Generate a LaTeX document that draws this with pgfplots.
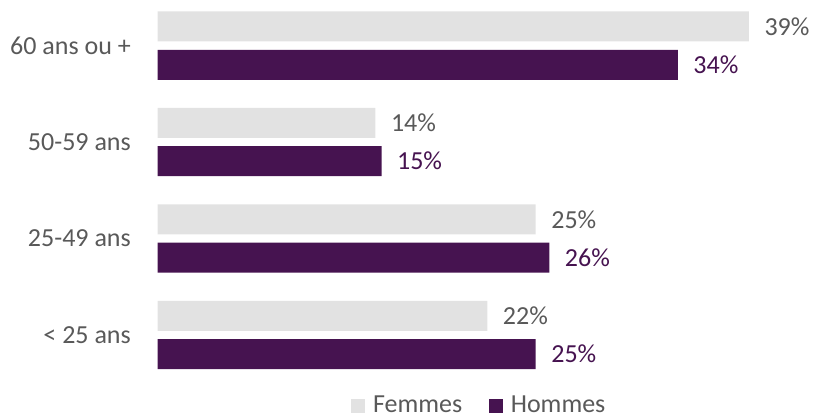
\documentclass[border=0pt]{standalone}
\usepackage{pgfplots}
\pgfplotsset{compat=1.18}
\usepackage{pgfplotstable}
\usepackage{fontspec}
\setmainfont{Carlito}
\definecolor{fgray}{HTML}{E2E2E2}
\definecolor{hpurple}{HTML}{461350}
\definecolor{tgray}{HTML}{595959}

\pgfplotstableread{
idx val lab
0 21.8 22\%
1 25.0 25\%
2 14.4 14\%
3 39.1 39\%
}\femmes
\pgfplotstableread{
idx val lab
0 25.0 25\%
1 25.9 26\%
2 14.8 15\%
3 34.4 34\%
}\hommes

\begin{document}
\begin{tikzpicture}[font=\fontsize{19.5pt}{23pt}\selectfont]
\begin{axis}[
  scale only axis,
  width=487.6pt, height=289.4pt,
  xmin=0, xmax=43,
  ymin=-0.5, ymax=3.5,
  axis line style={draw=none},
  xtick=\empty,
  ytick={0,1,2,3},
  yticklabels={{< 25 ans},{25-49 ans},{50-59 ans},{60 ans ou +}},
  major tick length=0pt,
  y tick label style={inner sep=0pt, anchor=east, xshift=-20pt, text=tgray, font=\fontsize{19.5pt}{23pt}\selectfont},
  xbar,
  bar width=22.5pt,
  point meta=explicit symbolic,
  nodes near coords,
  nodes near coords style={anchor=west, inner sep=0pt, xshift=11.5pt, font=\fontsize{19.5pt}{23pt}\selectfont},
  legend columns=2,
  legend style={draw=none, fill=none, at={(0.495,-0.058)}, anchor=center,
    font=\fontsize{19.5pt}{23pt}\selectfont, text=tgray, inner sep=0pt,
    /tikz/every even column/.append style={column sep=18pt},
    /tikz/every odd column/.append style={column sep=4pt}},
  legend image code/.code={\fill[#1] (0pt,-5.25pt) rectangle (10.5pt,5.25pt);},
  clip=false,
]
\addplot[fill=fgray, draw=none, bar shift=14.4pt, nodes near coords style={text=tgray}]
  table[x=val, y=idx, meta=lab] {\femmes};
\addlegendentry{Femmes}
\addplot[fill=hpurple, draw=none, bar shift=-14.4pt, nodes near coords style={text=hpurple}]
  table[x=val, y=idx, meta=lab] {\hommes};
\addlegendentry{Hommes}
\end{axis}
\pgfresetboundingbox
\useasboundingbox ([xshift=-118.3pt, yshift=-26.2pt]current axis.south west) rectangle ([xshift=4.6pt, yshift=-2.0pt]current axis.north east);
\end{tikzpicture}
\end{document}
